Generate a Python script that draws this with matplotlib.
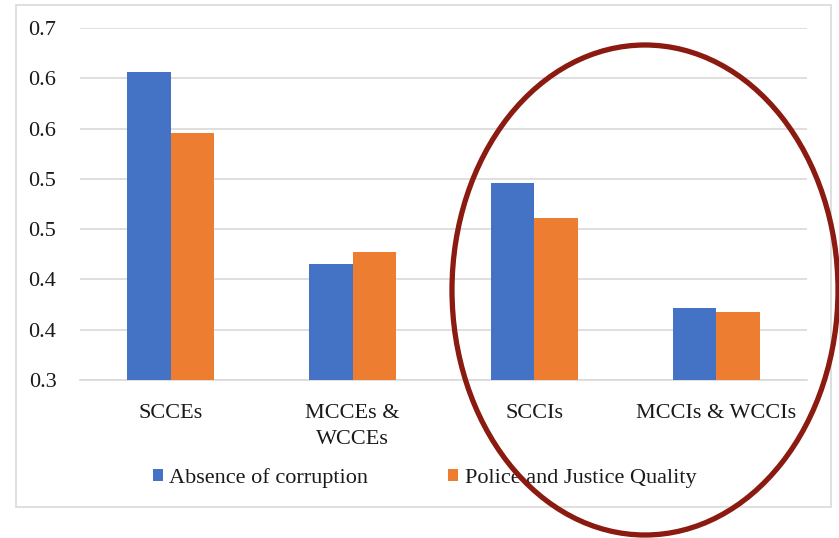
import matplotlib

matplotlib.use("Agg")
import matplotlib.pyplot as plt
import numpy as np
from matplotlib.patches import Ellipse, Rectangle

categories = ["SCCEs", "MCCEs &\nWCCEs", "SCCIs", "MCCIs & WCCIs"]
absence_corruption = [0.606, 0.415, 0.496, 0.372]
police_justice = [0.546, 0.427, 0.461, 0.368]
y_ticks = [0.30, 0.35, 0.40, 0.45, 0.50, 0.55, 0.60, 0.65]
# Excel-style rounding to one decimal (half up)
y_tick_labels = ["0.3", "0.4", "0.4", "0.5", "0.5", "0.6", "0.6", "0.7"]

BLUE = "#4472C4"
ORANGE = "#ED7D31"
GRID = "#d9d9d9"
TEXT = "#1a1a1a"
FS = 16

plt.rcParams["font.family"] = ["Liberation Serif", "DejaVu Serif"]

W, H = 839, 538
fig = plt.figure(figsize=(W / 100, H / 100), dpi=100)

# outer chart frame
fig.patches.append(Rectangle((16 / W, 1 - 507 / H), (831 - 16) / W, (507 - 5) / H,
                             transform=fig.transFigure, fill=False,
                             edgecolor=GRID, linewidth=1.2, zorder=0))

ax = fig.add_axes([80 / W, 1 - 380 / H, (807 - 80) / W, (380 - 28) / H])

x = np.arange(len(categories))
bw = 0.24
ax.bar(x - bw / 2, absence_corruption, bw, color=BLUE, label="Absence of corruption", zorder=3)
ax.bar(x + bw / 2, police_justice, bw, color=ORANGE, label="Police and Justice Quality", zorder=3)

ax.set_xlim(-0.5, len(categories) - 0.5)
ax.set_ylim(0.30, 0.65)
ax.set_yticks(y_ticks)
ax.set_yticklabels(y_tick_labels)
ax.set_xticks(x)
ax.set_xticklabels(categories, linespacing=1.5)
ax.tick_params(axis="both", length=0, labelsize=FS, colors=TEXT)
ax.tick_params(axis="x", pad=17)
ax.tick_params(axis="y", pad=17)
ax.yaxis.grid(True, color=GRID, linewidth=1.2, zorder=0)
ax.set_axisbelow(True)
for s in ["top", "right", "left"]:
    ax.spines[s].set_visible(False)
ax.spines["bottom"].set_color(GRID)
ax.spines["bottom"].set_linewidth(1.2)

fig.legend(loc="center", bbox_to_anchor=(0.506, 1 - 478 / H), ncol=2, frameon=False,
           fontsize=FS, handlelength=0.45, handleheight=0.45, handletextpad=0.3,
           columnspacing=3.6, labelcolor=TEXT)

# hand-drawn highlight ellipse around the SCCI / MCCI groups
fig.patches.append(Ellipse((645 / W, 1 - 290 / H), 386 / W, 490 / H,
                           transform=fig.transFigure, fill=False,
                           edgecolor="#8B1A10", linewidth=3.8, zorder=10))

fig.savefig("out.png", dpi=100)
